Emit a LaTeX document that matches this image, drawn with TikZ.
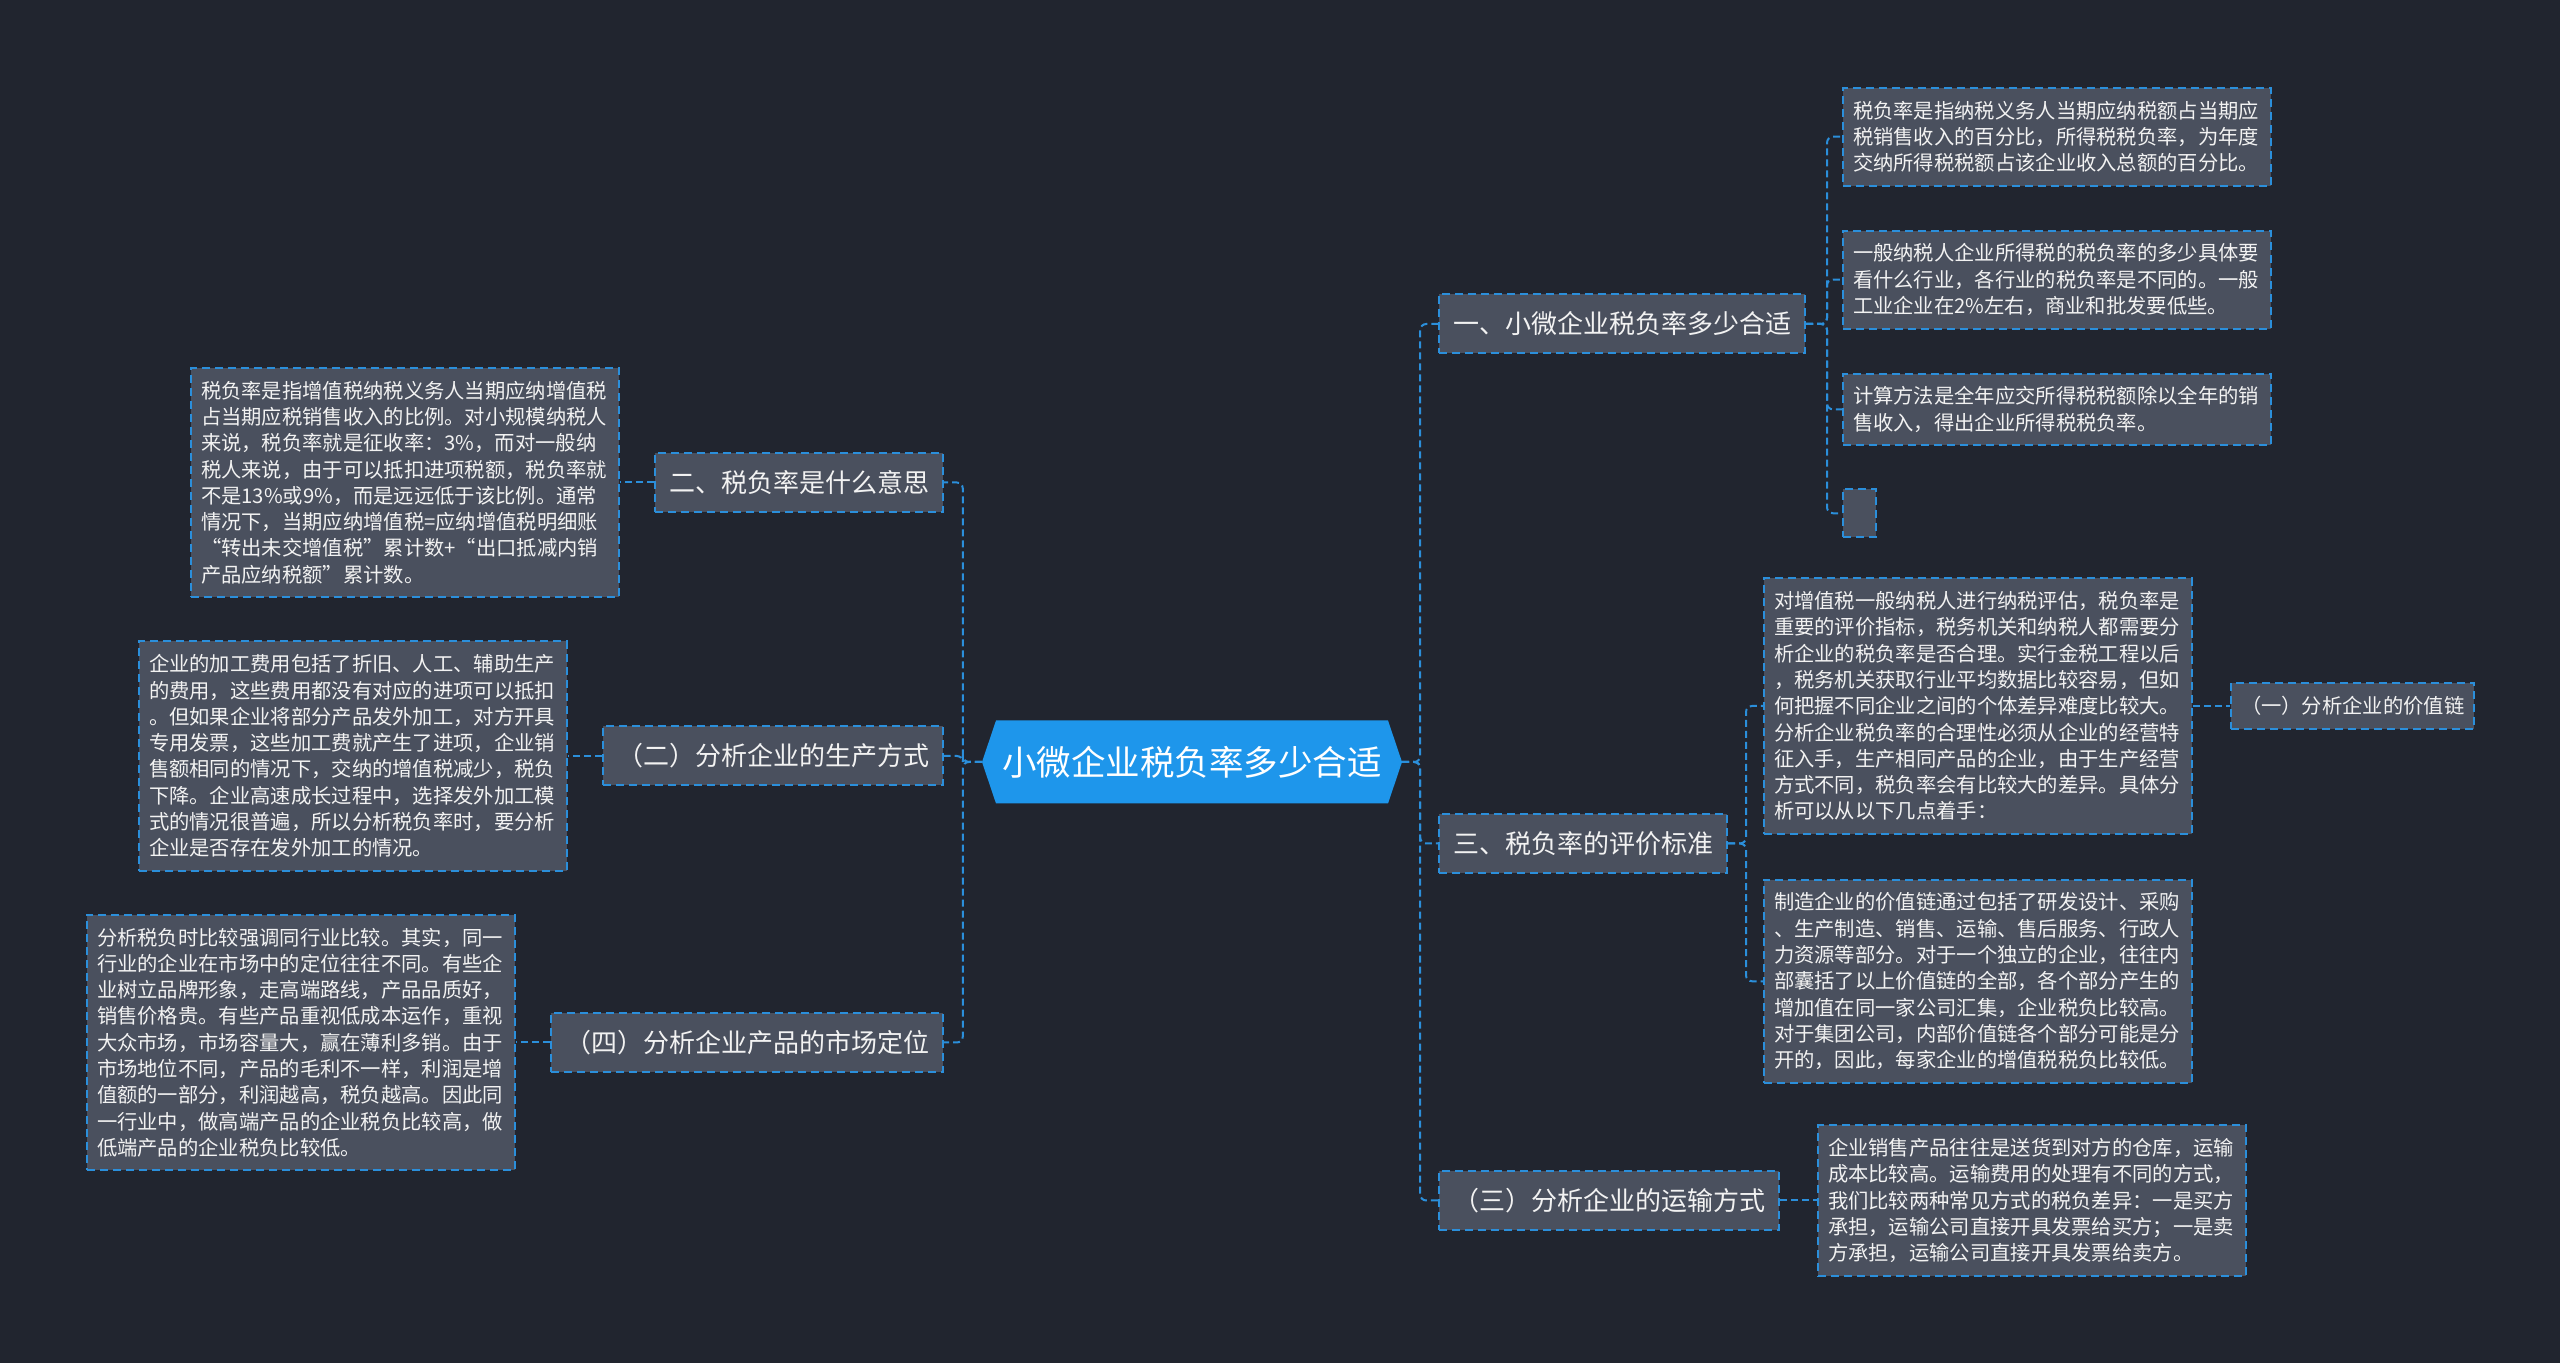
\documentclass[tikz,border=0pt]{standalone}
\usepackage{fontspec}
\setmainfont{Noto Sans CJK SC}
\usepackage{tikz}
\usetikzlibrary{positioning}
\definecolor{bgdark}{HTML}{21252F}
\definecolor{boxfill}{HTML}{4A505E}
\definecolor{linkblue}{HTML}{2B8FDB}
\definecolor{rootblue}{HTML}{1E96EB}
\definecolor{paper}{HTML}{F2F2F2}
\tikzset{
  link/.style={draw=linkblue, line width=2pt, dash pattern=on 7pt off 4pt, rounded corners=6pt},
  topic/.style={draw=linkblue, line width=2pt, dash pattern=on 8pt off 5pt, fill=boxfill, text=paper,
    font=\fontsize{26pt}{31pt}\selectfont, minimum height=59pt, inner xsep=14pt},
  leaf/.style={draw=linkblue, line width=2pt, dash pattern=on 8pt off 5pt, fill=boxfill, text=paper,
    font=\fontsize{20.3pt}{26.3pt}\selectfont, text width=408pt, align=left, inner xsep=10pt, inner ysep=13pt},
  tag/.style={draw=linkblue, line width=2pt, dash pattern=on 8pt off 5pt, fill=boxfill, text=paper,
    font=\fontsize{20.3pt}{26.3pt}\selectfont, minimum height=46pt, inner xsep=10pt},
  blank/.style={draw=linkblue, line width=2pt, dash pattern=on 8pt off 5pt, fill=boxfill,
    minimum width=33pt, minimum height=48pt, inner sep=0pt},
  root/.style={rectangle, fill=bgdark, minimum width=420pt, minimum height=83pt, text=white,
    font=\fontsize{34.5pt}{40pt}\selectfont,
    path picture={\fill[rootblue] (path picture bounding box.west)
      -- ([xshift=14pt]path picture bounding box.north west)
      -- ([xshift=-14pt]path picture bounding box.north east)
      -- (path picture bounding box.east)
      -- ([xshift=-14pt]path picture bounding box.south east)
      -- ([xshift=14pt]path picture bounding box.south west) -- cycle;}},
}
\begin{document}
\begin{tikzpicture}[x=1pt, y=1pt, node distance=37pt]
    \fill[bgdark] (0,0) rectangle (2560,1363);
    \node[root] (root) at (1192,601) {小微企业税负率多少合适};

    \node[topic, anchor=west] (b1) at (1438,1039) {一、小微企业税负率多少合适};
    \node[topic, anchor=west] (b3) at (1438,519.5) {三、税负率的评价标准};
    \node[topic, anchor=west] (b5) at (1438,162.5) {（三）分析企业的运输方式};
    \node[topic, anchor=east] (b2) at (944,880.5) {二、税负率是什么意思};
    \node[topic, anchor=east] (b4) at (944,607) {（二）分析企业的生产方式};
    \node[topic, anchor=east] (b6) at (944,320.5) {（四）分析企业产品的市场定位};

    \node[leaf, anchor=north west] (r1a) at (1842,1276)
    {税负率是指纳税义务人当期应纳税额占当期应\\税销售收入的百分比，所得税税负率，为年度\\交纳所得税税额占该企业收入总额的百分比。};
    \node[leaf, below=43pt of r1a.south west, anchor=north west] (r1b)
    {一般纳税人企业所得税的税负率的多少具体要\\看什么行业，各行业的税负率是不同的。一般\\工业企业在2\%左右，商业和批发要低些。};
    \node[leaf, below=43pt of r1b.south west, anchor=north west] (r1c)
    {计算方法是全年应交所得税税额除以全年的销\\售收入，得出企业所得税税负率。};
    \node[blank, below=42pt of r1c.south west, anchor=north west] (r1d) {};

    \node[leaf, anchor=west] (r3a) at (1763,657)
    {对增值税一般纳税人进行纳税评估，税负率是\\重要的评价指标，税务机关和纳税人都需要分\\析企业的税负率是否合理。实行金税工程以后\\，税务机关获取行业平均数据比较容易，但如\\何把握不同企业之间的个体差异难度比较大。\\分析企业税负率的合理性必须从企业的经营特\\征入手，生产相同产品的企业，由于生产经营\\方式不同，税负率会有比较大的差异。具体分\\析可以从以下几点着手：};
    \node[leaf, below=44pt of r3a.south west, anchor=north west] (r3b)
    {制造企业的价值链通过包括了研发设计、采购\\、生产制造、销售、运输、售后服务、行政人\\力资源等部分。对于一个独立的企业，往往内\\部囊括了以上价值链的全部，各个部分产生的\\增加值在同一家公司汇集，企业税负比较高。\\对于集团公司，内部价值链各个部分可能是分\\开的，因此，每家企业的增值税税负比较低。};
    \node[tag, right=of r3a] (v1) {（一）分析企业的价值链};

    \node[leaf, right=of b5] (r5)
    {企业销售产品往往是送货到对方的仓库，运输\\成本比较高。运输费用的处理有不同的方式，\\我们比较两种常见方式的税负差异：一是买方\\承担，运输公司直接开具发票给买方；一是卖\\方承担，运输公司直接开具发票给卖方。};

    \node[leaf, left=34pt of b2] (l2)
    {税负率是指增值税纳税义务人当期应纳增值税\\占当期应税销售收入的比例。对小规模纳税人\\来说，税负率就是征收率：3\%，而对一般纳\\税人来说，由于可以抵扣进项税额，税负率就\\不是13\%或9\%，而是远远低于该比例。通常\\情况下，当期应纳增值税=应纳增值税明细账\\“转出未交增值税”累计数+“出口抵减内销\\产品应纳税额”累计数。};
    \node[leaf, left=34pt of b4] (l4)
    {企业的加工费用包括了折旧、人工、辅助生产\\的费用，这些费用都没有对应的进项可以抵扣\\。但如果企业将部分产品发外加工，对方开具\\专用发票，这些加工费就产生了进项，企业销\\售额相同的情况下，交纳的增值税减少，税负\\下降。企业高速成长过程中，选择发外加工模\\式的情况很普遍，所以分析税负率时，要分析\\企业是否存在发外加工的情况。};
    \node[leaf, left=34pt of b6] (l6)
    {分析税负时比较强调同行业比较。其实，同一\\行业的企业在市场中的定位往往不同。有些企\\业树立品牌形象，走高端路线，产品品质好，\\销售价格贵。有些产品重视低成本运作，重视\\大众市场，市场容量大，赢在薄利多销。由于\\市场地位不同，产品的毛利不一样，利润是增\\值额的一部分，利润越高，税负越高。因此同\\一行业中，做高端产品的企业税负比较高，做\\低端产品的企业税负比较低。};

    \foreach \b in {b1,b3,b5}
      \draw[link] (root.east) -- ++(18,0) |- (\b.west);
    \foreach \b in {b2,b4,b6}
      \draw[link] (root.west) -- ++(-19,0) |- (\b.east);
    \foreach \l in {r1a,r1b,r1c,r1d}
      \draw[link] (b1.east) -- ++(21,0) |- (\l.west);
    \foreach \l in {r3a,r3b}
      \draw[link] (b3.east) -- ++(18,0) |- (\l.west);
    \draw[link] (r3a) -- (v1);
    \draw[link] (b5) -- (r5);
    \draw[link] (b2) -- (l2);
    \draw[link] (b4) -- (l4);
    \draw[link] (b6) -- (l6);
\end{tikzpicture}
\end{document}
